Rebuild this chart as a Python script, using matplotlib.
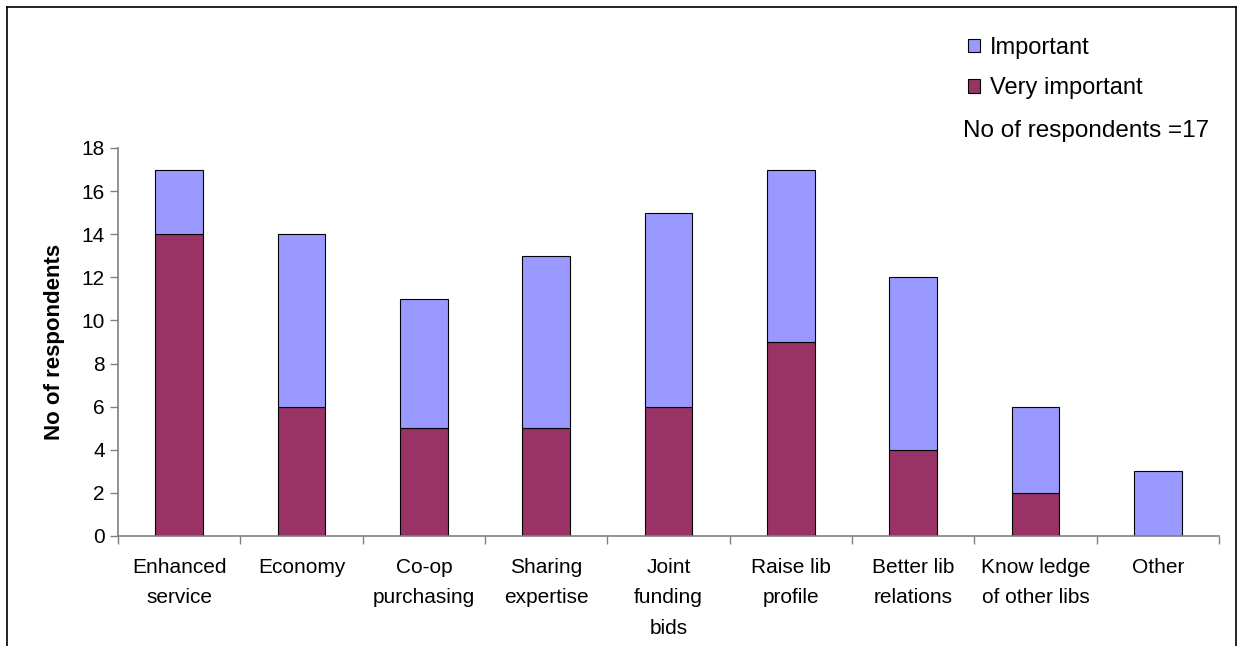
import matplotlib.pyplot as plt
import numpy as np
from matplotlib.lines import Line2D
from matplotlib.patches import Patch

plt.rcParams["font.family"] = ["Liberation Sans", "DejaVu Sans"]

categories = [
    "Enhanced\nservice",
    "Economy",
    "Co-op\npurchasing",
    "Sharing\nexpertise",
    "Joint\nfunding\nbids",
    "Raise lib\nprofile",
    "Better lib\nrelations",
    "Know ledge\nof other libs",
    "Other",
]
very_important = [14, 6, 5, 5, 6, 9, 4, 2, 0]
important = [3, 8, 6, 8, 9, 8, 8, 4, 3]
y_ticks = [0, 2, 4, 6, 8, 10, 12, 14, 16, 18]

c_very = "#993366"
c_imp = "#9999FF"

fig = plt.figure(figsize=(12.42, 6.46), dpi=100)
ax = fig.add_axes([0.095, 0.1703, 0.8865, 0.6006])

x = np.arange(len(categories))
width = 0.39
ax.bar(x, very_important, width, color=c_very, edgecolor="black", linewidth=0.8)
ax.bar(x, important, width, bottom=very_important, color=c_imp,
       edgecolor="black", linewidth=0.8)

ax.set_xlim(-0.5, len(categories) - 0.5)
ax.set_ylim(0, 18)
ax.set_yticks(y_ticks)
ax.tick_params(axis="y", labelsize=15, color="#808080", length=6, width=1)

# category labels centred, ticks at the boundaries
ax.set_xticks(x)
ax.set_xticklabels(categories, fontsize=15, linespacing=1.75, va="top")
ax.tick_params(axis="x", length=0, pad=16)
ax.set_xticks(np.arange(len(categories) + 1) - 0.5, minor=True)
ax.tick_params(axis="x", which="minor", length=6, color="#808080", width=1)

for side in ("top", "right"):
    ax.spines[side].set_visible(False)
for side in ("left", "bottom"):
    ax.spines[side].set_color("#808080")
    ax.spines[side].set_linewidth(1.2)

ax.set_ylabel("No of respondents", fontsize=16, fontweight="bold", labelpad=12)

handles = [
    Patch(facecolor=c_imp, edgecolor="black", linewidth=0.8),
    Patch(facecolor=c_very, edgecolor="black", linewidth=0.8),
]
fig.legend(handles, ["Important", "Very important"], loc="upper left",
           bbox_to_anchor=(0.7625, 0.976), frameon=False, fontsize=17,
           handlelength=0.5, handleheight=0.5, handletextpad=0.42,
           labelspacing=0.78)
fig.text(0.7755, 0.797, "No of respondents =17", fontsize=17.5, va="center")

# outer chart frame
frame_kw = dict(color="black", linewidth=1.2, transform=fig.transFigure)
fig.add_artist(Line2D([0.006, 0.006], [0, 0.989], **frame_kw))
fig.add_artist(Line2D([0.006, 0.995], [0.989, 0.989], **frame_kw))
fig.add_artist(Line2D([0.995, 0.995], [0, 0.989], **frame_kw))

fig.savefig("out.png", dpi=100)
